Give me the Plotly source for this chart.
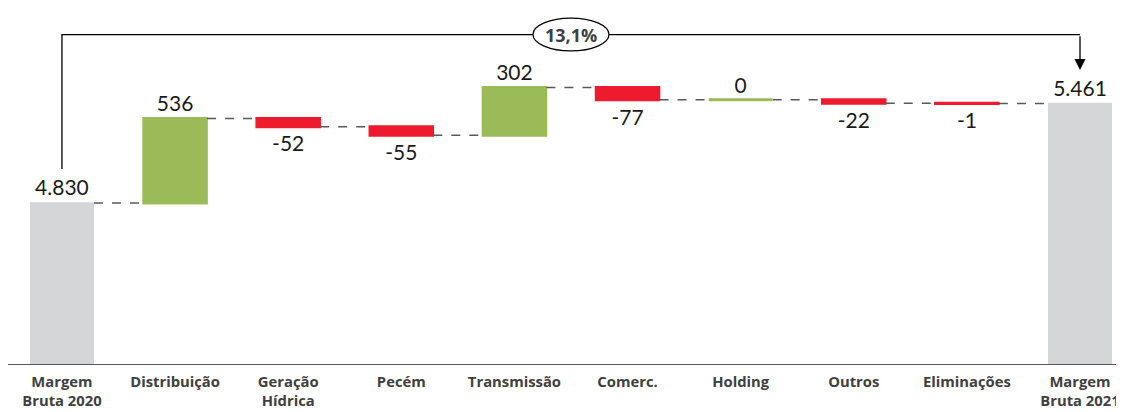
import plotly.graph_objects as go

categories = ["Margem<br>Bruta 2020", "Distribuição", "Geração<br>Hídrica", "Pecém",
              "Transmissão", "Comerc.", "Holding", "Outros", "Eliminações",
              "Margem<br>Bruta 2021"]
values = [4830, 536, -52, -55, 302, -77, 0, -22, -1, 5461]
measures = ["absolute"] + ["relative"] * 8 + ["total"]
growth_label = "13,1%"

GRAY = "#D4D5D7"
GREEN = "#9BBB59"
RED = "#EE1B2E"
DARK = "#404040"
BAR_W = 0.566


def fmt(v):
    s = f"{abs(v):,}".replace(",", ".")
    return ("-" if v < 0 else "") + s


texts = [fmt(v) for v in values]
x_idx = list(range(len(categories)))

# running totals (for zero-change marker)
cum = []
run = 0
for v, m in zip(values, measures):
    if m == "absolute":
        run = v
    elif m == "relative":
        run += v
    cum.append(run)

fig = go.Figure()
fig.add_trace(go.Waterfall(
    x=x_idx,
    y=[v if m != "total" else 0 for v, m in zip(values, measures)],
    measure=measures,
    text=texts,
    textposition="outside",
    textfont=dict(family="Lato", size=21, color="#1a1a1a"),
    increasing=dict(marker=dict(color=GREEN, line=dict(color=GREEN, width=1.5))),
    decreasing=dict(marker=dict(color=RED, line=dict(color=RED, width=1.5))),
    totals=dict(marker=dict(color=GRAY, line=dict(color=GRAY, width=0))),
    connector=dict(line=dict(color="#595959", width=1.5, dash="dash"), mode="between"),
    width=BAR_W,
    cliponaxis=False,
))

# zero-change items drawn as a thin line at the running level
for i, (v, m) in enumerate(zip(values, measures)):
    if m == "relative" and v == 0:
        fig.add_shape(type="line", xref="x", yref="y",
                      x0=i - BAR_W / 2, x1=i + BAR_W / 2, y0=cum[i], y1=cum[i],
                      line=dict(color=GREEN, width=3), layer="above")

y0, y1 = 3805, 6065
fig.update_layout(
    width=1116, height=404,
    margin=dict(l=0, r=0, t=0, b=47),
    plot_bgcolor="white", paper_bgcolor="white",
    showlegend=False,
    xaxis=dict(
        range=[-0.477, 9.389], automargin=False,
        tickmode="array", tickvals=x_idx, ticktext=categories,
        tickfont=dict(family="Open Sans", size=14.8, color=DARK, weight="bold"),
        ticklabelstandoff=6,
        showgrid=False, zeroline=False, showline=False, ticks="",
    ),
    yaxis=dict(range=[y0, y1], visible=False, showgrid=False, automargin=False),
)

# baseline axis line
fig.add_shape(type="line", xref="paper", yref="y", x0=0, x1=1, y0=y0, y1=y0,
              line=dict(color="#595959", width=2))

# growth bracket
y_top = 5896
fig.add_shape(type="path", xref="x", yref="y",
              path=f"M 0,5046 L 0,{y_top} L 9,{y_top}",
              line=dict(color="black", width=1.3))
fig.add_annotation(x=9, y=5672, ax=9, ay=y_top, xref="x", yref="y", axref="x", ayref="y",
                   showarrow=True, arrowhead=2, arrowsize=1.7, arrowwidth=1.3,
                   arrowcolor="black", text="")
fig.add_shape(type="circle", xref="x", yref="y", x0=4.164, x1=4.836, y0=5793, y1=6001,
              line=dict(color="black", width=1.2), fillcolor="white")
fig.add_annotation(x=4.5, y=y_top, xref="x", yref="y", text=f"<b>{growth_label}</b>",
                   showarrow=False, font=dict(family="Open Sans", size=18, color=DARK))

fig.write_html("out.html")
